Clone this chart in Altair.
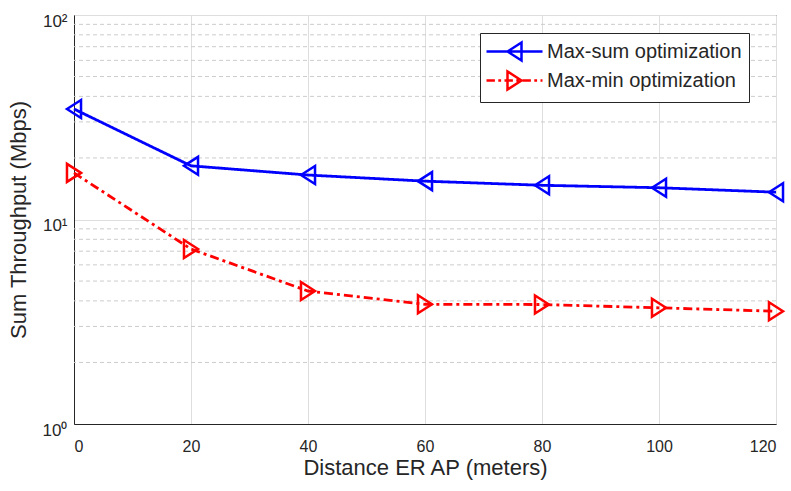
import altair as alt
import pandas as pd

# ---- data ----
distance = [0, 20, 40, 60, 80, 100, 120]
max_sum = [34.7, 18.3, 16.5, 15.4, 14.7, 14.3, 13.6]
max_min = [16.9, 7.17, 4.47, 3.85, 3.84, 3.70, 3.56]
series_names = ["Max-sum optimization", "Max-min optimization"]
series_colors = ["#0000ff", "#ff0000"]

x_ticks = [0, 20, 40, 60, 80, 100, 120]
y_ticks = [1, 10, 100]
y_tick_labels = ["10⁰", "10¹", "10²"]
minor_ticks = [2, 3, 4, 5, 6, 7, 8, 9, 20, 30, 40, 50, 60, 70, 80, 90]

FONT = "Liberation Sans"
TXT = "#262626"

# marker shapes (SVG paths)
tri_left = "M-0.78,0L0.78,-1L0.78,1Z"
tri_right = "M0.78,0L-0.78,-1L-0.78,1Z"
legend_sym = [
    "M-2.8,0H2.8M-0.7,0L0.7,-0.9L0.7,0.9Z",
    "M-2.8,0H-1.96M-1.62,0H-1.34M-1.0,0H-0.16M0.18,0H0.46M0.8,0H1.64M1.98,0H2.26M2.6,0H2.8"
    "M0.7,0L-0.7,-0.9L-0.7,0.9Z",
]
markers = [tri_left, tri_right]
dashes = [[1, 0], [9, 4, 3, 4]]

df = pd.DataFrame({
    "distance": distance * 2,
    "value": max_sum + max_min,
    "series": [series_names[0]] * len(distance) + [series_names[1]] * len(distance),
})
minor_df = pd.DataFrame({"v": minor_ticks})

label_expr = " : ".join(
    f"datum.value == {v} ? '{l}'" for v, l in zip(y_ticks[:-1], y_tick_labels[:-1])
) + f" : '{y_tick_labels[-1]}'"

xaxis = alt.Axis(values=x_ticks, title="Distance ER AP (meters)", grid=True,
                 gridColor="#dedede", gridWidth=1, ticks=False,
                 domainColor=TXT, labelColor=TXT, titleColor=TXT,
                 labelFont=FONT, titleFont=FONT, labelFontSize=16, titleFontSize=22,
                 titleFontWeight="normal", labelPadding=14, titlePadding=3)
yaxis = alt.Axis(values=y_ticks, labelExpr=label_expr, title="Sum Throughput (Mbps)",
                 grid=True, gridColor="#dedede", gridWidth=1, ticks=False,
                 domainColor=TXT, labelColor=TXT, titleColor=TXT,
                 labelFont=FONT, titleFont=FONT, labelFontSize=17, titleFontSize=22,
                 titleFontWeight="normal", labelPadding=7, titlePadding=12, labelOffset=6)

xs = alt.Scale(domain=[0, 120], nice=False)
ys = alt.Scale(type="log", domain=[1, 100], nice=False)

minor = alt.Chart(minor_df).mark_rule(color="#cccccc", strokeDash=[4, 3], strokeWidth=1).encode(
    y=alt.Y("v:Q", scale=ys, axis=yaxis)
)

layers = [minor]
for i, name in enumerate(series_names):
    base = alt.Chart(df).transform_filter(alt.datum.series == name)
    line = base.mark_line(color=series_colors[i], strokeWidth=2.8, strokeDash=dashes[i]).encode(
        x=alt.X("distance:Q", scale=xs, axis=xaxis),
        y=alt.Y("value:Q", scale=ys, axis=yaxis),
    )
    pts = base.mark_point(shape=markers[i], size=324, filled=False, strokeWidth=2.5,
                          opacity=1, color=series_colors[i]).encode(
        x=alt.X("distance:Q", scale=xs, axis=xaxis),
        y=alt.Y("value:Q", scale=ys, axis=yaxis),
    )
    layers += [line, pts]

leg = alt.Chart(df).transform_filter("false").mark_point(filled=False, opacity=1, strokeWidth=2.5).encode(
    color=alt.Color("series:N", scale=alt.Scale(domain=series_names, range=series_colors),
                    legend=alt.Legend(title=None)),
    shape=alt.Shape("series:N", scale=alt.Scale(domain=series_names, range=legend_sym),
                    legend=alt.Legend(title=None)),
)
layers.append(leg)

chart = alt.layer(*layers).properties(
    width=702, height=409,
    autosize=alt.AutoSizeParams(type="none"),
    padding={"left": 74, "top": 15, "right": 15, "bottom": 67},
    background="white",
).configure_view(
    stroke=TXT, strokeWidth=1
).configure_legend(
    orient="none", legendX=406, legendY=18,
    fillColor="white", strokeColor=TXT, padding=7, rowPadding=0,
    symbolSize=400, symbolStrokeWidth=2.5, symbolOffset=16,
    labelFont=FONT, labelFontSize=20,
    labelColor=TXT, labelOffset=21, labelLimit=400,
)

chart.save("out.html", embed_options={"renderer": "svg", "actions": False})
